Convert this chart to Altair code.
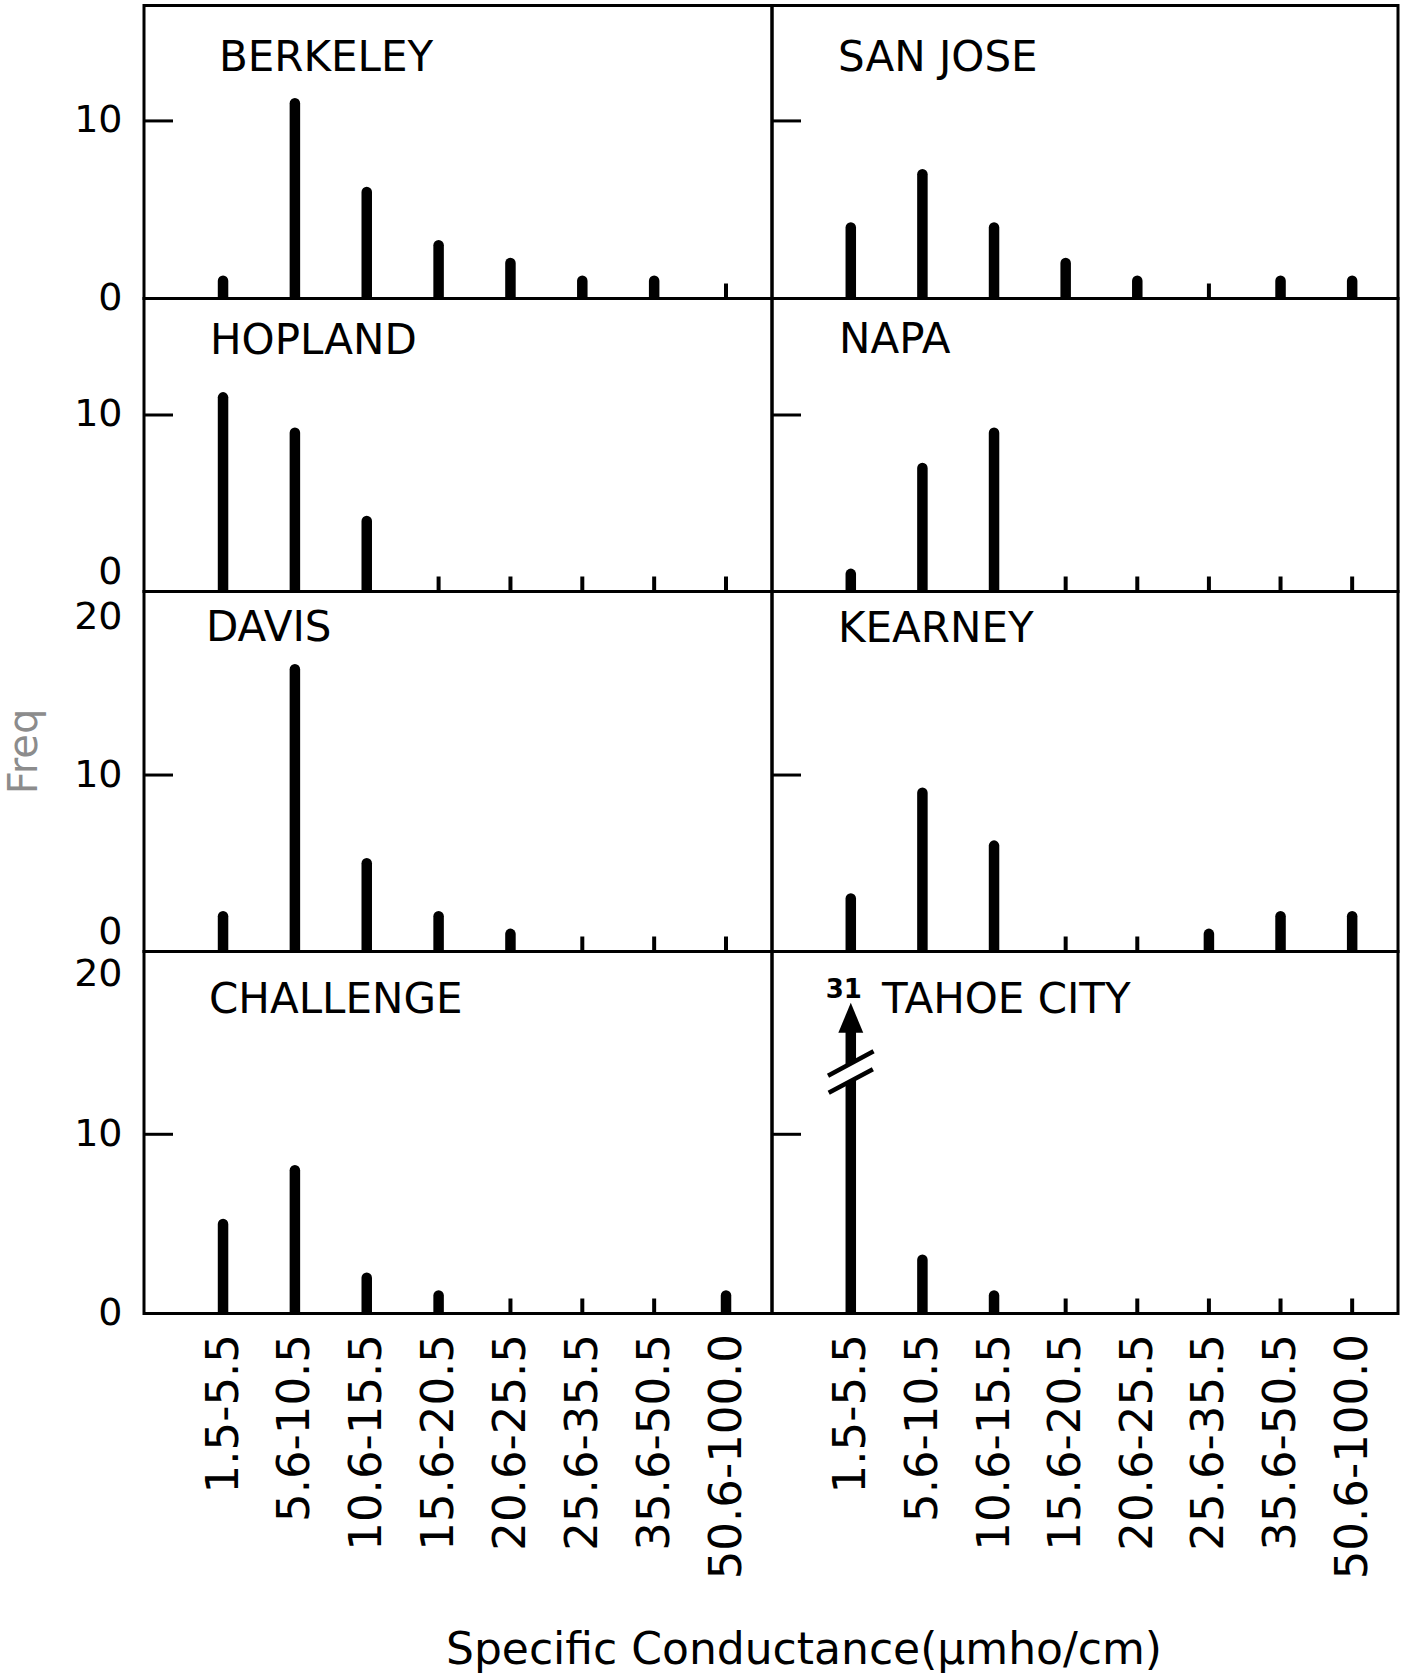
import json
import altair as alt
import pandas as pd

# ---------------- data ----------------
CATEGORIES = ["1.5-5.5", "5.6-10.5", "10.6-15.5", "15.6-20.5",
              "20.6-25.5", "25.6-35.5", "35.6-50.5", "50.6-100.0"]

SITES = ["BERKELEY", "SAN JOSE", "HOPLAND", "NAPA",
         "DAVIS", "KEARNEY", "CHALLENGE", "TAHOE CITY"]

BERKELEY = [1, 11, 6, 3, 2, 1, 1, 0]
SAN_JOSE = [4, 7, 4, 2, 1, 0, 1, 1]
HOPLAND = [11, 9, 4, 0, 0, 0, 0, 0]
NAPA = [1, 7, 9, 0, 0, 0, 0, 0]
DAVIS = [2, 16, 5, 2, 1, 0, 0, 0]
KEARNEY = [3, 9, 6, 0, 0, 1, 2, 2]
CHALLENGE = [5, 8, 2, 1, 0, 0, 0, 1]
TAHOE_CITY = [31, 3, 1, 0, 0, 0, 0, 0]

SERIES = [BERKELEY, SAN_JOSE, HOPLAND, NAPA, DAVIS, KEARNEY, CHALLENGE, TAHOE_CITY]

Y_LABELS = [[0, 10], [0, 10], [0, 10, 20], [0, 10, 20]]
Y_TICKS = [10]

X_TITLE = "Specific  Conductance(µmho/cm)"
Y_TITLE = "Freq"

# ---------------- layout / style ----------------
FONT = "DejaVu Sans"
ROW_HEIGHTS = [293, 293, 360, 362]
COL_WIDTHS = [628, 626]
Y_MAX = [16.5, 16.6, 20.4, 20.2]
X_DOMAIN = [-1.1, 7.64]
TITLE_POS = [(75, 65), (66, 65), (66, 55), (67, 54),
             (62, 49), (66, 50), (65, 61), (110, 61)]
BASELINE_RULES = [
    "middle",
    {"condition": {"test": "datum.value == 0", "value": "bottom"}, "value": "middle"},
    {"condition": [{"test": "datum.value == 0", "value": "bottom"},
                   {"test": "datum.value == 20", "value": "top"}], "value": "middle"},
    {"condition": {"test": "datum.value == 20", "value": "top"}, "value": "middle"},
]

# broken-bar decoration (in data units of the panel)
SHAFT_TOP = 16.0
HEAD_Y = 16.5
TIP_Y = 17.35
BREAK_Y = 13.45
ARROW_PATH = "M0,-1L0.83,1L-0.83,1Z"
BREAK_PATH = "M-0.99,0.14L0.99,-0.92M-0.96,0.88L0.96,-0.14"
GAP_PATH = "M-0.35,-0.204L0.35,-0.578L0.35,0.183L-0.35,0.557Z"

X_AXIS = alt.Axis(
    values=list(range(len(CATEGORIES))),
    labelExpr=json.dumps(CATEGORIES) + "[datum.value]",
    labelAngle=270, labelAlign="right", labelBaseline="middle",
    labelFont=FONT, labelFontSize=45, labelColor="black", labelPadding=20,
    labelOverlap=False, labelFlush=False, labelLimit=0,
    ticks=False, domain=False, grid=False, title=None,
)


def y_axis(row):
    return alt.Axis(
        values=Y_LABELS[row], labelFont=FONT, labelFontSize=38, labelColor="black",
        labelPadding=22, labelBaseline=BASELINE_RULES[row],
        labelOverlap=False, labelFlush=False, labelLimit=0,
        ticks=False, domain=False, grid=False, title=None,
    )


def panel(i):
    row, col = divmod(i, 2)
    w, h, ymax = COL_WIDTHS[col], ROW_HEIGHTS[row], Y_MAX[row]
    counts = SERIES[i]
    df = pd.DataFrame({"pos": list(range(len(CATEGORIES))),
                       "category": CATEGORIES, "count": counts})
    df["base"] = 0
    df["top"] = [c if c <= ymax else SHAFT_TOP for c in counts]
    bars_df = df[df["count"] > 0]
    broken = df[df["count"] > ymax].copy()
    broken["head"] = HEAD_Y
    broken["tip"] = TIP_Y
    broken["brk"] = BREAK_Y

    xscale = alt.Scale(domain=X_DOMAIN, nice=False, zero=False)
    yscale = alt.Scale(domain=[0, ymax], nice=False, zero=False)
    xaxis = X_AXIS if row == 3 else None
    yaxis = y_axis(row) if col == 0 else None

    def X(field="pos"):
        return alt.X(f"{field}:Q", scale=xscale, axis=xaxis)

    def Y(field):
        return alt.Y(f"{field}:Q", scale=yscale, axis=yaxis)

    layers = []
    layers.append(
        alt.Chart(bars_df).mark_rule(strokeWidth=10.5, strokeCap="round",
                                     color="black", clip=True)
        .encode(x=X(), y=Y("top"), y2="base")
    )
    if len(broken):
        layers.append(
            alt.Chart(broken).mark_point(shape=GAP_PATH, size=2116, filled=True,
                                         color="white", opacity=1, strokeWidth=0)
            .encode(x=X(), y=Y("brk"))
        )
        layers.append(
            alt.Chart(broken).mark_point(shape=BREAK_PATH, size=2116, filled=False,
                                         color="black", opacity=1, strokeWidth=4.5)
            .encode(x=X(), y=Y("brk"))
        )
        layers.append(
            alt.Chart(broken).mark_point(shape=ARROW_PATH, size=900, filled=True,
                                         color="black", opacity=1, strokeWidth=0)
            .encode(x=X(), y=Y("head"))
        )
        layers.append(
            alt.Chart(broken).mark_text(font=FONT, fontSize=26, fontWeight="bold",
                                        baseline="bottom", align="center", dx=-7,
                                        color="black")
            .encode(x=X(), y=Y("tip"), text="count:Q")
        )
    layers.append(
        alt.Chart(df).mark_rule(strokeWidth=4, color="black")
        .encode(x=X(), y=alt.value(h), y2=alt.value(h - 15))
    )
    layers.append(
        alt.Chart(pd.DataFrame({"t": Y_TICKS})).mark_rule(strokeWidth=3, color="black")
        .encode(y=Y("t"), x=alt.value(0), x2=alt.value(29))
    )
    tx, ty = TITLE_POS[i]
    layers.append(
        alt.Chart(pd.DataFrame({"site": [SITES[i]]}))
        .mark_text(align="left", baseline="alphabetic", font=FONT, fontSize=42,
                   color="black")
        .encode(x=alt.value(tx), y=alt.value(ty), text="site:N")
    )
    if i == 4:
        layers.append(
            alt.Chart(pd.DataFrame({"t": [Y_TITLE]}))
            .mark_text(angle=270, align="center", baseline="middle", font=FONT,
                       fontSize=40, color="#8c8c8c")
            .encode(x=alt.value(-119), y=alt.value(160), text="t:N")
        )
    if i == 6:
        layers.append(
            alt.Chart(pd.DataFrame({"t": [X_TITLE]}))
            .mark_text(align="center", baseline="alphabetic", font=FONT,
                       fontSize=44, color="black")
            .encode(x=alt.value(660), y=alt.value(712), text="t:N")
        )
    return alt.layer(*layers).properties(width=w, height=h)


chart = (
    alt.concat(*[panel(i) for i in range(8)], columns=2, spacing=0, bounds="flush")
    .properties(padding={"left": 3, "top": 3.5, "right": 0, "bottom": 0})
    .configure(background="white", font=FONT)
    .configure_view(stroke="black", strokeWidth=3)
)

chart.save("out.html", embed_options={"renderer": "svg", "actions": False})
